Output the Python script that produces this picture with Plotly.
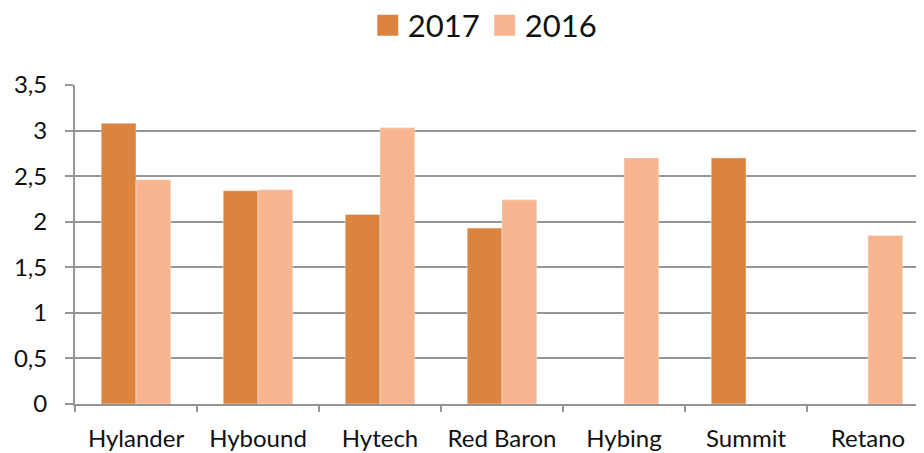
import plotly.graph_objects as go

categories = ["Hylander", "Hybound", "Hytech", "Red Baron", "Hybing", "Summit", "Retano"]
values_2017 = [3.08, 2.34, 2.08, 1.93, None, 2.70, None]
values_2016 = [2.46, 2.35, 3.03, 2.24, 2.70, None, 1.85]
y_tickvals = [0, 0.5, 1, 1.5, 2, 2.5, 3, 3.5]
y_ticktext = ["0", "0,5", "1", "1,5", "2", "2,5", "3", "3,5"]

FONT = "Lato, Open Sans, sans-serif"
GRID = "#959595"
C2017 = "#DC843F"
C2016 = "#F8B58F"

fig = go.Figure()
fig.add_trace(go.Bar(name="2017", x=categories, y=values_2017, marker_color=C2017,
                     showlegend=False, legendgroup="2017"))
fig.add_trace(go.Bar(name="2016", x=categories, y=values_2016, marker_color=C2016,
                     showlegend=False, legendgroup="2016"))
# legend entries with larger square swatches
for name, col in [("2017", C2017), ("2016", C2016)]:
    fig.add_trace(go.Scatter(name=name, x=[None], y=[None], mode="markers",
                             legendgroup=name, hoverinfo="skip",
                             marker=dict(symbol="square", size=16, color=col,
                                         line=dict(color=col, width=5))))

fig.update_layout(
    width=924, height=453,
    margin=dict(l=67, r=3, t=77, b=57, autoexpand=False),
    paper_bgcolor="white", plot_bgcolor="white",
    barmode="group", bargap=0.43, bargroupgap=0,
    separators=",.",
    font=dict(family=FONT, color="#1a1a1a"),
    showlegend=True,
    legend=dict(orientation="h", xref="container", yref="container",
                x=0.516, xanchor="center", y=0.961, yanchor="middle",
                font=dict(size=31, family=FONT, color="#111"), itemwidth=30,
                itemsizing="trace", traceorder="normal"),
    xaxis=dict(
        range=[-0.5, 6.5], showgrid=False, automargin=False,
        showline=True, linecolor=GRID, linewidth=2,
        ticks="outside", tickson="boundaries", ticklen=6, tickcolor=GRID, tickwidth=2,
        ticklabelstandoff=12,
        tickfont=dict(size=24, family=FONT, color="#111"),
    ),
    yaxis=dict(
        range=[0, 3.5], tickvals=y_tickvals, ticktext=y_ticktext, automargin=False,
        showgrid=True, gridcolor=GRID, gridwidth=2,
        showline=True, linecolor=GRID, linewidth=2,
        ticks="outside", ticklen=8, tickcolor=GRID, tickwidth=2,
        ticklabelstandoff=13,
        tickfont=dict(size=24, family=FONT, color="#111"),
        zeroline=False,
    ),
)
fig.write_html("out.html")
